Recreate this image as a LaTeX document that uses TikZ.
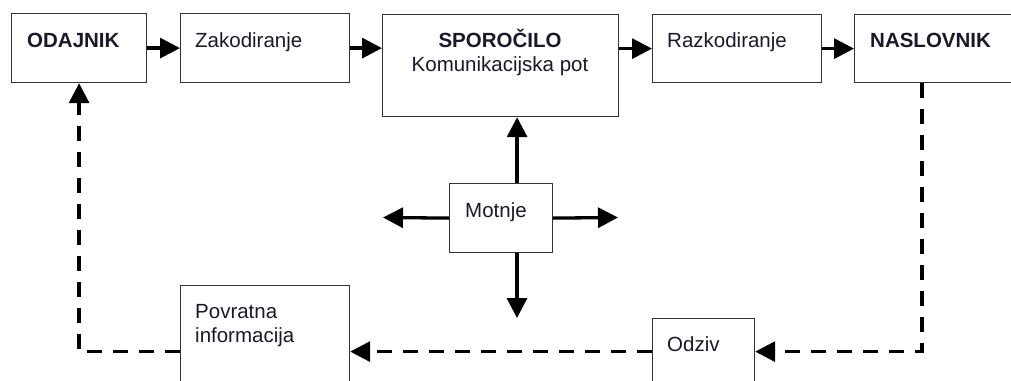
\documentclass[tikz,border=0pt]{standalone}
\usepackage{fontspec}
\setmainfont{Liberation Sans}
\usetikzlibrary{arrows.meta}
\definecolor{ink}{RGB}{25,25,45}

\begin{document}
\begin{tikzpicture}[x=1pt, y=-1pt,
    box/.style={draw=black!80, line width=1.2pt, fill=white, anchor=north west, inner sep=0pt},
    txt/.style={anchor=base west, inner sep=0pt, text=ink, font=\fontsize{20.5}{24}\selectfont},
    flow/.style={line width=3.3pt, -{Triangle[length=20pt, width=20pt]}},
    back/.style={flow, dash pattern=on 15pt off 11pt}]

    \useasboundingbox (0,0) rectangle (1011,380);
    \clip (0,0) rectangle (1011,380);

    % Top row
    \node[box, minimum width=135pt, minimum height=69pt] (odajnik) at (11,13) {};
    \node[box, minimum width=169pt, minimum height=69pt] (zak) at (180,13) {};
    \node[box, minimum width=236pt, minimum height=102pt] (sporocilo) at (382,14) {};
    \node[box, minimum width=169pt, minimum height=68pt] (razk) at (652,14) {};
    \node[box, minimum width=180pt, minimum height=68pt] (naslovnik) at (854,14) {};

    % Noise and feedback
    \node[box, minimum width=103pt, minimum height=69pt] (motnje) at (449,183) {};
    \node[box, minimum width=169pt, minimum height=132pt] (povratna) at (180,285) {};
    \node[box, minimum width=102pt, minimum height=66pt] (odziv) at (652,318) {};

    % Labels
    \node[txt, font=\fontsize{20.5}{24}\selectfont\bfseries] (odajnikT) at (27,47) {ODAJNIK};
    \node[txt] (zakT) at (195,47) {Zakodiranje};
    \node[txt, anchor=base, font=\fontsize{20.5}{24}\selectfont\bfseries] (sporociloT) at (500,47) {SPOROČILO};
    \node[txt, anchor=base] (potT) at (500,71) {Komunikacijska pot};
    \node[txt] (razkT) at (667,47) {Razkodiranje};
    \node[txt, font=\fontsize{20.5}{24}\selectfont\bfseries] (naslovnikT) at (870,47) {NASLOVNIK};
    \node[txt] (motnjeT) at (465,217) {Motnje};
    \node[txt, align=left] (povratnaT) at (195,342) {Povratna\\informacija};
    \node[txt] (odzivT) at (667,351) {Odziv};

    % Free ends of the noise arrows
    \coordinate (noiseW) at (383,217.5);
    \coordinate (noiseE) at (618,217.5);
    \coordinate (noiseS) at (517,318);

    % Message path
    \draw[flow] (odajnik.east) -- (zak.west);
    \draw[flow] (zak.east) -- (zak.east -| sporocilo.west);
    \draw[flow] (sporocilo.east |- razk.west) -- (razk.west);
    \draw[flow] (razk.east) -- (naslovnik.west);

    % Noise
    \draw[flow] ([xshift=16pt]motnje.north) -- ([xshift=16pt]motnje.north |- sporocilo.south);
    \draw[flow] (motnje.west) -- (noiseW);
    \draw[flow] (motnje.east) -- (noiseE);
    \draw[flow] (motnje.south -| noiseS) -- (noiseS);

    % Feedback loop
    \draw[back] ([xshift=68pt]naslovnik.south west) |- (odziv.east);
    \draw[back] (odziv.west) -- (povratna.east);
    \draw[back] (povratna.west) -| (odajnik.south);

\end{tikzpicture}
\end{document}
